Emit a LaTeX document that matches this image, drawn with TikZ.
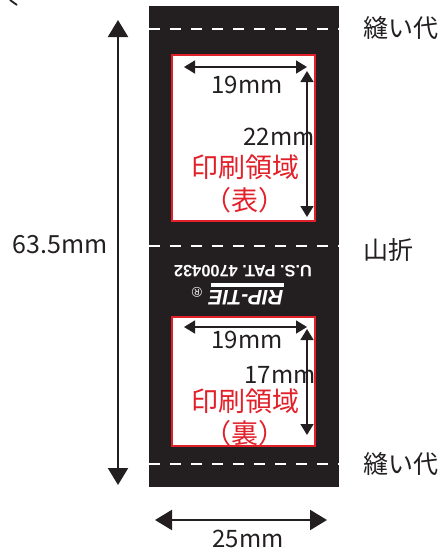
\documentclass[tikz,border=0pt]{standalone}
\usepackage{fontspec}
\setmainfont{Noto Sans CJK JP}
\newfontfamily\logofont{Liberation Sans}
\usepackage{xcolor}
\definecolor{colorPanel}{HTML}{231F20}
\definecolor{colorPrint}{HTML}{E2202A}
\usetikzlibrary{arrows.meta, positioning}
\tikzset{
  bigdim/.style={draw=colorPanel, line width=2.2pt, {Triangle[length=17pt,width=20pt]}-{Triangle[length=17pt,width=20pt]}},
  smalldim/.style={draw=colorPanel, line width=1.6pt, {Triangle[length=11pt,width=13pt]}-{Triangle[length=11pt,width=13pt]}},
  seam/.style={draw=white, line width=2.4pt, dash pattern=on 11pt off 10pt},
  printbox/.style={draw=colorPrint, fill=white, line width=2.8pt},
  dimtext/.style={text=colorPanel, font=\fontsize{24}{26}\selectfont, inner sep=0pt},
  sidetext/.style={text=colorPanel, font=\fontsize{25}{27}\selectfont, inner sep=0pt},
  printtext/.style={text=colorPrint, font=\fontsize{27}{29}\selectfont, inner sep=0pt},
}
\begin{document}
\begin{tikzpicture}[x=1pt, y=-1pt]
\useasboundingbox (0,0) rectangle (445,552);
\fill[colorPanel] (149,6) rectangle (339,487);
% seams
\coordinate (s1l) at (149,29);
\coordinate (s1r) at (339,29);
\coordinate (s2l) at (149,246);
\coordinate (s2r) at (339,246);
\coordinate (s3l) at (149,464);
\coordinate (s3r) at (339,464);
\draw[seam] (s1l) -- (s1r);
\draw[seam] (s2l) -- (s2r);
\draw[seam] (s3l) -- (s3r);
% front
\draw[printbox] (172,55) rectangle (315,221);
\node[printtext] (front) at (245,167) {印刷領域};
\node[printtext] (frontb) at (245,200) {（表）};
\coordinate (f19l) at (184,67);
\coordinate (f19r) at (307,67);
\coordinate (f22t) at (307,71);
\coordinate (f22b) at (307,217);
\draw[smalldim] (f19l) -- (f19r);
\draw[smalldim] (f22t) -- (f22b);
\node[dimtext] (f19) at (247,85) {19mm};
\node[dimtext] (f22) at (279,137) {22mm};
% back
\draw[printbox] (172,317) rectangle (315,446);
\begin{scope}
\clip (172,317) rectangle (315,445);
\node[printtext] (back) at (245,401) {印刷領域};
\node[printtext] (backb) at (245,433) {（裏）};
\end{scope}
\coordinate (b19l) at (184,327);
\coordinate (b19r) at (307,327);
\coordinate (b17t) at (307,329);
\coordinate (b17b) at (307,435);
\draw[smalldim] (b19l) -- (b19r);
\draw[smalldim] (b17t) -- (b17b);
\node[dimtext] (b19) at (247,340) {19mm};
\node[dimtext] (b17) at (280,375) {17mm};
% logo
\node[rotate=180, text=white, inner sep=0pt, font=\logofont\bfseries\fontsize{16.4}{17}\selectfont] (pat) at (243,271) {U.S. PAT. 4700432};
\node[rotate=180, text=white, inner sep=0pt, font=\logofont\bfseries\itshape\fontsize{21}{21}\selectfont] (rip) at (246,298) {RIP-TIE};
\fill[white] (211,283) -- (284,283) -- (284,287) -- (211,287) -- cycle;
\node[rotate=180, text=white, inner sep=0pt, font=\logofont\fontsize{14}{14}\selectfont] (reg) at (197,292) {®};
% outer
\coordinate (h1) at (118,20);
\coordinate (h2) at (118,485);
\coordinate (w1) at (155,520);
\coordinate (w2) at (327,520);
\draw[bigdim] (h1) -- (h2);
\draw[bigdim] (w1) -- (w2);
\node[sidetext] (height) at (60,245) {63.5mm};
\node[dimtext] (width) at (248,539) {25mm};
\node[sidetext] (seama) at (401,28) {縫い代};
\node[sidetext] (fold) at (388,250) {山折};
\node[sidetext] (seamb) at (401,464) {縫い代};
% corner tick
\coordinate (t2) at (10,0);
\coordinate (t3) at (17,5);
\draw[colorPanel, line width=1.8pt] (t2) -- (t3);
\end{tikzpicture}
\end{document}
